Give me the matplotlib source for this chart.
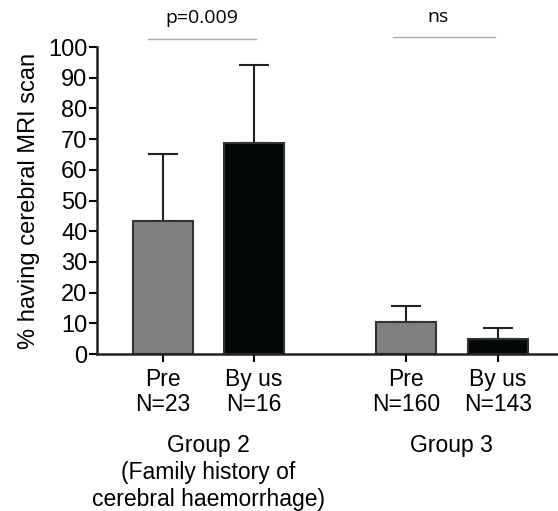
import matplotlib
matplotlib.use("Agg")
import matplotlib.pyplot as plt
import numpy as np

plt.rcParams['font.family'] = ['Liberation Sans', 'DejaVu Sans']

bar_labels = ["Pre\nN=23", "By us\nN=16", "Pre\nN=160", "By us\nN=143"]
values = [43.3, 68.6, 10.3, 4.8]
err_upper = [21.9, 25.6, 5.2, 3.7]
bar_colors = ["#808080", "#050808", "#808080", "#050808"]
group_labels = ["Group 2\n(Family history of\ncerebral haemorrhage)", "Group 3"]
sig_labels = ["p=0.009", "ns"]
yticks = list(range(0, 101, 10))

fig = plt.figure(figsize=(5.58, 5.11), dpi=100)
ax = fig.add_axes([97/558, (511-354)/511, 1 - 97/558, (354-47)/511])

x = np.array([0, 1, 2.67, 3.68])
ax.bar(x, values, width=0.65, color=bar_colors, edgecolor="#333333", linewidth=1.5, zorder=2)
ax.errorbar(x, values, yerr=[np.zeros(4), err_upper], fmt='none', ecolor="#222222",
            elinewidth=1.5, capsize=11, capthick=1.5, zorder=1)

ax.set_ylim(0, 100)
ax.set_xlim(-0.725, 4.34)
ax.set_yticks(yticks)
ax.set_xticks(x)
ax.set_xticklabels(bar_labels, fontsize=16.5, linespacing=1.1)
ax.tick_params(axis='y', labelsize=17, length=6, width=1.5, pad=1)
ax.tick_params(axis='x', length=6, width=1.5, pad=4)
for s in ['top', 'right']:
    ax.spines[s].set_visible(False)
for s in ['left', 'bottom']:
    ax.spines[s].set_linewidth(1.8)
    ax.spines[s].set_color("#222222")
ax.set_ylabel("% having cerebral MRI scan", fontsize=17, labelpad=6)

# significance lines
ax.plot([-0.16, 1.02], [102.5, 102.5], color="#aaaaaa", lw=1, clip_on=False)
ax.plot([2.53, 3.65], [103.2, 103.2], color="#aaaaaa", lw=1, clip_on=False)
ax.text(0.43, 106.5, sig_labels[0], ha='center', va='bottom', fontsize=14, family=['Open Sans'])
ax.text(3.02, 107.0, sig_labels[1], ha='center', va='bottom', fontsize=14, family=['Open Sans'])

# group labels
fig.text(208/558, 1 - 434/511, group_labels[0], ha='center', va='top', fontsize=16.5, linespacing=1.22)
fig.text(451/558, 1 - 434/511, group_labels[1], ha='center', va='top', fontsize=16.5)

fig.savefig("out.png", dpi=100)
